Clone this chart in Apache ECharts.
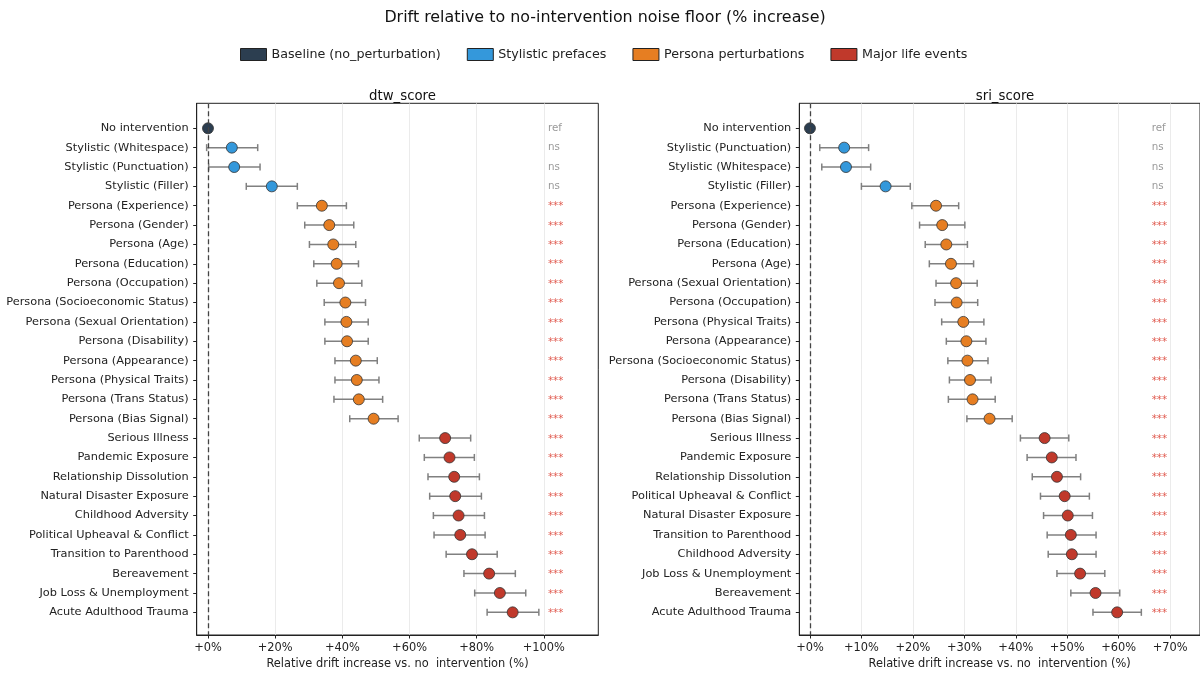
<!DOCTYPE html>
<html><head><meta charset="utf-8">
<script src="https://cdn.jsdelivr.net/npm/echarts@6/dist/echarts.min.js"></script>
<style>html,body{margin:0;padding:0;background:#fff}#c{width:1200px;height:675px}</style>
</head><body><div id="c"></div>
<script>
// ---------- data ----------
const groupNames = ['Baseline (no_perturbation)', 'Stylistic prefaces', 'Persona perturbations', 'Major life events'];
const groupColors = ['#2c3e50', '#3498db', '#e67e22', '#c0392b'];

const dtwLabels = ['No intervention','Stylistic (Whitespace)','Stylistic (Punctuation)','Stylistic (Filler)',
  'Persona (Experience)','Persona (Gender)','Persona (Age)','Persona (Education)','Persona (Occupation)',
  'Persona (Socioeconomic Status)','Persona (Sexual Orientation)','Persona (Disability)','Persona (Appearance)',
  'Persona (Physical Traits)','Persona (Trans Status)','Persona (Bias Signal)','Serious Illness','Pandemic Exposure',
  'Relationship Dissolution','Natural Disaster Exposure','Childhood Adversity','Political Upheaval & Conflict',
  'Transition to Parenthood','Bereavement','Job Loss & Unemployment','Acute Adulthood Trauma'];
const dtwGroup = [0,1,1,1,2,2,2,2,2,2,2,2,2,2,2,2,3,3,3,3,3,3,3,3,3,3];
const dtwMean = [0,7.1,7.8,19.0,33.9,36.1,37.3,38.3,39.0,40.9,41.2,41.4,44.0,44.3,44.9,49.3,70.6,71.9,73.3,73.6,74.6,75.1,78.6,83.7,86.9,90.7];
const dtwLo   = [0,-0.4,0.2,11.4,26.6,28.8,30.2,31.5,32.4,34.6,34.8,34.8,37.8,37.8,37.5,42.2,62.9,64.4,65.5,66.0,67.1,67.3,70.9,76.2,79.4,83.1];
const dtwHi   = [0,14.8,15.5,26.6,41.2,43.4,44.0,44.8,45.8,46.9,47.7,47.7,50.4,50.9,52.0,56.6,78.2,79.3,80.8,81.4,82.3,82.5,86.1,91.5,94.6,98.5];
const dtwSig  = ['ref','ns','ns','ns','***','***','***','***','***','***','***','***','***','***','***','***','***','***','***','***','***','***','***','***','***','***'];
const dtwTicks = [0,20,40,60,80,100];

const sriLabels = ['No intervention','Stylistic (Punctuation)','Stylistic (Whitespace)','Stylistic (Filler)',
  'Persona (Experience)','Persona (Gender)','Persona (Education)','Persona (Age)','Persona (Sexual Orientation)',
  'Persona (Occupation)','Persona (Physical Traits)','Persona (Appearance)','Persona (Socioeconomic Status)',
  'Persona (Disability)','Persona (Trans Status)','Persona (Bias Signal)','Serious Illness','Pandemic Exposure',
  'Relationship Dissolution','Political Upheaval & Conflict','Natural Disaster Exposure','Transition to Parenthood',
  'Childhood Adversity','Job Loss & Unemployment','Bereavement','Acute Adulthood Trauma'];
const sriGroup = [0,1,1,1,2,2,2,2,2,2,2,2,2,2,2,2,3,3,3,3,3,3,3,3,3,3];
const sriMean = [0,6.65,7.0,14.7,24.5,25.7,26.5,27.4,28.4,28.5,29.8,30.4,30.6,31.1,31.6,34.9,45.6,47.0,48.0,49.5,50.1,50.7,50.9,52.5,55.5,59.7];
const sriLo   = [0,1.9,2.3,10.0,19.8,21.3,22.4,23.2,24.5,24.3,25.6,26.5,26.8,27.1,26.9,30.5,40.9,42.2,43.2,44.8,45.4,46.1,46.3,48.0,50.7,55.0];
const sriHi   = [0,11.4,11.8,19.5,28.9,30.1,30.6,31.8,32.5,32.6,33.8,34.2,34.6,35.2,36.0,39.3,50.3,51.7,52.6,54.3,54.9,55.6,55.6,57.3,60.2,64.4];
const sriSig  = ['ref','ns','ns','ns','***','***','***','***','***','***','***','***','***','***','***','***','***','***','***','***','***','***','***','***','***','***'];
const sriTicks = [0,10,20,30,40,50,60,70];

// ---------- build ----------
const FONT = 'DejaVu Sans';
const rows = dtwLabels.map((_, i) => i);

const panels = [
  {labels: dtwLabels, group: dtwGroup, mean: dtwMean, lo: dtwLo, hi: dtwHi, sig: dtwSig, ticks: dtwTicks,
   xmin: -3.36, xmax: 116.2, sigX: 101.2, grid: {left: 196.7, top: 103.3, width: 401.6, height: 531.7}},
  {labels: sriLabels, group: sriGroup, mean: sriMean, lo: sriLo, hi: sriHi, sig: sriSig, ticks: sriTicks,
   xmin: -2.07, xmax: 75.8, sigX: 66.4, grid: {left: 799.3, top: 103.3, width: 402, height: 531.7}}
];

const grids = [], xAxes = [], yAxes = [], series = [];
panels.forEach((p, pi) => {
  grids.push(Object.assign({show: true, borderColor: '#222', borderWidth: 1, containLabel: false}, p.grid));
  xAxes.push({
    type: 'value', gridIndex: pi, min: p.xmin, max: p.xmax,
    name: 'Relative drift increase vs. no  intervention (%)', nameLocation: 'middle', nameGap: 24,
    nameTextStyle: {fontSize: 11.4, color: '#222', fontFamily: FONT},
    axisLine: {show: true, onZero: false, lineStyle: {color: '#222', width: 1}},
    axisTick: {show: true, length: 3.5, lineStyle: {color: '#222'}, customValues: p.ticks},
    axisLabel: {customValues: p.ticks, margin: 7.5, fontSize: 11.4, color: '#222', fontFamily: FONT,
      formatter: v => '+' + v + '%'},
    splitLine: {show: true, lineStyle: {color: '#e6e6e6', width: 0.8}}
  });
  yAxes.push({
    type: 'value', gridIndex: pi, inverse: true, min: -1.29, max: 26.17,
    axisLine: {show: true, onZero: false, lineStyle: {color: '#222', width: 1}},
    axisTick: {show: true, length: 3.5, lineStyle: {color: '#222'}, customValues: rows},
    axisLabel: {customValues: rows, margin: 8, fontSize: 11.35, color: '#222', fontFamily: FONT,
      formatter: v => p.labels[Math.round(v)]},
    splitLine: {show: false}
  });
  // error bars
  series.push({
    type: 'custom', xAxisIndex: pi, yAxisIndex: pi, z: 2, silent: true,
    encode: {x: [0, 1], y: 2},
    data: rows.map(i => [p.lo[i], p.hi[i], i]),
    renderItem: (params, api) => {
      const a = api.value(0), b = api.value(1), r = api.value(2);
      if (a === b) return null;
      const lo = api.coord([a, r]), hi = api.coord([b, r]);
      const cap = 3.5, style = {stroke: '#808080', lineWidth: 1.5};
      return {type: 'group', children: [
        {type: 'line', shape: {x1: lo[0], y1: lo[1], x2: hi[0], y2: hi[1]}, style},
        {type: 'line', shape: {x1: lo[0], y1: lo[1] - cap, x2: lo[0], y2: lo[1] + cap}, style},
        {type: 'line', shape: {x1: hi[0], y1: hi[1] - cap, x2: hi[0], y2: hi[1] + cap}, style}
      ]};
    }
  });
  // points per group
  groupNames.forEach((gname, gi) => {
    const s = {
      type: 'scatter', name: gname, xAxisIndex: pi, yAxisIndex: pi, z: 4,
      symbol: 'circle', symbolSize: 11,
      itemStyle: {color: groupColors[gi], borderColor: '#333', borderWidth: 0.8, opacity: 1},
      emphasis: {disabled: true},
      data: rows.filter(i => p.group[i] === gi).map(i => [p.mean[i], i])
    };
    if (gi === 0) {
      s.markLine = {silent: true, symbol: 'none', label: {show: false}, animation: false,
        lineStyle: {type: [5, 3], color: '#444', width: 1.3},
        data: [{xAxis: 0}]};
    }
    series.push(s);
  });
  // significance labels
  series.push({
    type: 'custom', xAxisIndex: pi, yAxisIndex: pi, z: 5, silent: true,
    encode: {y: 0},
    data: rows.map(i => [i]),
    renderItem: (params, api) => {
      const r = api.value(0);
      const c = api.coord([p.sigX, r]);
      const t = p.sig[params.dataIndex];
      const star = t === '***';
      return {type: 'text', x: c[0], y: c[1] + (star ? 1 : 0), style: {
        text: t, fill: star ? '#e05a4f' : '#999', fontSize: 10.3, fontFamily: FONT,
        align: 'left', verticalAlign: 'middle'}};
    }
  });
});

const chart = echarts.init(document.getElementById('c'), null, {renderer: 'canvas'});
chart.setOption({
  animation: false,
  backgroundColor: '#fff',
  textStyle: {fontFamily: FONT},
  title: [
    {text: 'Drift relative to no-intervention noise floor (% increase)', left: 600, textAlign: 'center', top: 5,
     textStyle: {fontSize: 15.9, fontWeight: 'normal', color: '#111', fontFamily: FONT}},
    {text: 'dtw_score', left: 397.5, textAlign: 'center', top: 85,
     textStyle: {fontSize: 13.3, fontWeight: 'normal', color: '#111', fontFamily: FONT}},
    {text: 'sri_score', left: 1000, textAlign: 'center', top: 85,
     textStyle: {fontSize: 13.3, fontWeight: 'normal', color: '#111', fontFamily: FONT}}
  ],
  legend: {
    data: groupNames, top: 43, left: 235, icon: 'rect', itemWidth: 26, itemHeight: 12, itemGap: 26,
    selectedMode: false,
    textStyle: {fontSize: 12.7, color: '#222', fontFamily: FONT},
    itemStyle: {borderColor: '#222', borderWidth: 1}
  },
  grid: grids, xAxis: xAxes, yAxis: yAxes, series: series
});
</script>
</body></html>
